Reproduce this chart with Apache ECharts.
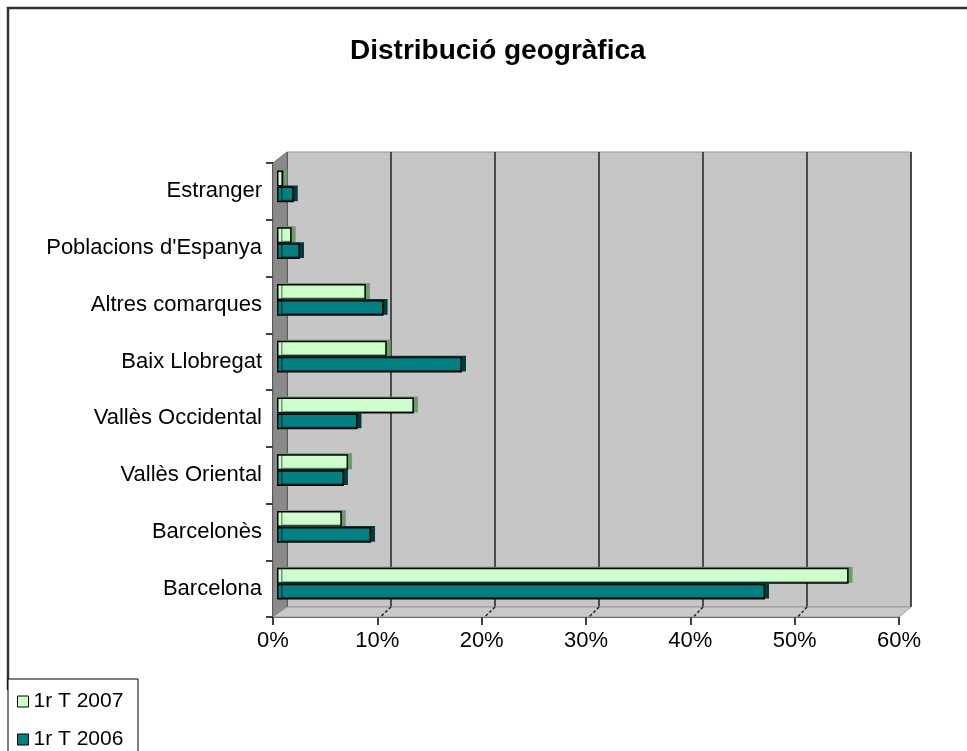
<!DOCTYPE html>
<html>
<head>
<meta charset="utf-8">
<script src="https://cdn.jsdelivr.net/npm/echarts@6/dist/echarts.min.js"></script>
<style>
  html, body { margin: 0; padding: 0; background: #fff; }
  #chart { width: 967px; height: 751px; }
</style>
</head>
<body>
<div id="chart"></div>
<script>
  const categories = [
    'Estranger', "Poblacions d'Espanya", 'Altres comarques', 'Baix Llobregat',
    'Vallès Occidental', 'Vallès Oriental', 'Barcelonès', 'Barcelona',
  ];
  const t2007 = [0.6, 1.4, 8.5, 10.5, 13.1, 6.8, 6.2, 54.7];
  const t2006 = [1.6, 2.2, 10.2, 17.7, 7.7, 6.4, 9.0, 46.7];
  const xTicks = [0, 10, 20, 30, 40, 50, 60];

  const FONT = "'Liberation Sans', Arial, sans-serif";
  const WALL = '#C6C6C6';

  const chart = echarts.init(document.getElementById('chart'), null, { renderer: 'canvas' });

  const hiddenValueAxis = (gridIndex, split) => ({
    type: 'value', gridIndex, min: xTicks[0], max: xTicks[xTicks.length - 1], interval: 10,
    axisLine: { show: false }, axisTick: { show: false }, axisLabel: { show: false },
    splitLine: { show: split, lineStyle: { color: '#222', width: 1.5 } },
  });
  const hiddenCatAxis = (gridIndex) => ({
    type: 'category', gridIndex, data: categories, inverse: true,
    axisLine: { show: false }, axisTick: { show: false }, axisLabel: { show: false },
  });

  const bar = (name, data, color, cap) => ({
    name, type: 'bar', xAxisIndex: 2, yAxisIndex: 2, data,
    barGap: '0%', barCategoryGap: '44%',
    itemStyle: {
      color, borderColor: '#000', borderWidth: 1.5,
      shadowColor: cap, shadowBlur: 0, shadowOffsetX: 4, shadowOffsetY: -1,
    },
    emphasis: { disabled: true },
  });

  const legendItem = (name, top) => ({
    orient: 'vertical', left: 12, top, z: 20,
    itemWidth: 11, itemHeight: 11,
    icon: 'rect',
    itemStyle: { borderColor: '#000', borderWidth: 1, shadowBlur: 0, shadowOffsetX: 0, shadowOffsetY: 0 },
    textStyle: { fontFamily: FONT, fontSize: 21, color: '#000' },
    data: [name],
  });

  chart.setOption({
    animation: false,
    textStyle: { fontFamily: FONT, color: '#000' },
    title: {
      text: 'Distribució geogràfica', left: 345, top: 32,
      textStyle: { fontFamily: FONT, fontSize: 28, fontWeight: 'bold', color: '#000' },
    },
    graphic: [
      // chart frame
      { id: 'frame', type: 'polyline', z: 10, shape: { points: [[8, 690], [8, 8], [967, 8]] },
        style: { stroke: '#333', lineWidth: 2.5, fill: null } },
      // left wall
      { id: 'leftWall', type: 'polygon', z: 1, shape: { points: [[273, 163], [287, 152], [287, 607], [273, 617]] },
        style: { fill: '#8a8a8a', stroke: '#777', lineWidth: 1 } },
      // floor
      { id: 'floor', type: 'polygon', z: 1, shape: { points: [[273, 617], [287, 607], [911, 607], [899, 617]] },
        style: { fill: '#C9C9C9', stroke: '#999', lineWidth: 1 } },
      // legend box
      { id: 'legendBox', type: 'rect', z: 10, shape: { x: 8, y: 679, width: 130, height: 80 },
        style: { fill: '#fff', stroke: '#000', lineWidth: 1 } },
    ],
    legend: [legendItem('1r T 2007', 686), legendItem('1r T 2006', 724)],
    grid: [
      { left: 287, right: 56, top: 152, bottom: 144, show: true, backgroundColor: WALL, borderColor: '#999', borderWidth: 1 },
      { left: 273, right: 68, top: 163, bottom: 134 },
      { left: 277, right: 63, top: 158, bottom: 139 },
    ],
    xAxis: [
      hiddenValueAxis(0, true),
      {
        type: 'value', gridIndex: 1, min: 0, max: 60, interval: 10,
        axisLine: { show: true, lineStyle: { color: '#000', width: 1.5 } },
        axisTick: { show: true, length: 8, lineStyle: { color: '#000', width: 1.5 } },
        axisLabel: { formatter: '{value}%', fontSize: 22, color: '#000', margin: 13, fontFamily: FONT },
        splitLine: { show: false },
      },
      hiddenValueAxis(2, false),
    ],
    yAxis: [
      hiddenCatAxis(0),
      {
        type: 'category', gridIndex: 1, data: categories, inverse: true,
        axisLine: { show: true, lineStyle: { color: '#000', width: 1.5 } },
        axisTick: { show: true, length: 7, lineStyle: { color: '#000', width: 1.5 } },
        axisLabel: { fontSize: 22, color: '#000', margin: 11, fontFamily: FONT },
      },
      hiddenCatAxis(2),
    ],
    series: [
      bar('1r T 2007', t2007, '#CCFFCC', '#6F9A6F'),
      bar('1r T 2006', t2006, '#008080', '#003C3C'),
    ],
  });

  // dashed floor lines joining the front ticks to the back wall gridlines
  const floorLines = xTicks.slice(1, -1).map((v) => {
    const back = chart.convertToPixel({ xAxisIndex: 0 }, v);
    const front = chart.convertToPixel({ xAxisIndex: 1 }, v);
    return {
      id: 'floorLine' + v, type: 'line', z: 2,
      shape: { x1: back, y1: 607, x2: front + 3, y2: 617 },
      style: { stroke: '#222', lineWidth: 1.5, lineDash: [3, 2] },
    };
  });
  chart.setOption({ graphic: floorLines });
</script>
</body>
</html>
